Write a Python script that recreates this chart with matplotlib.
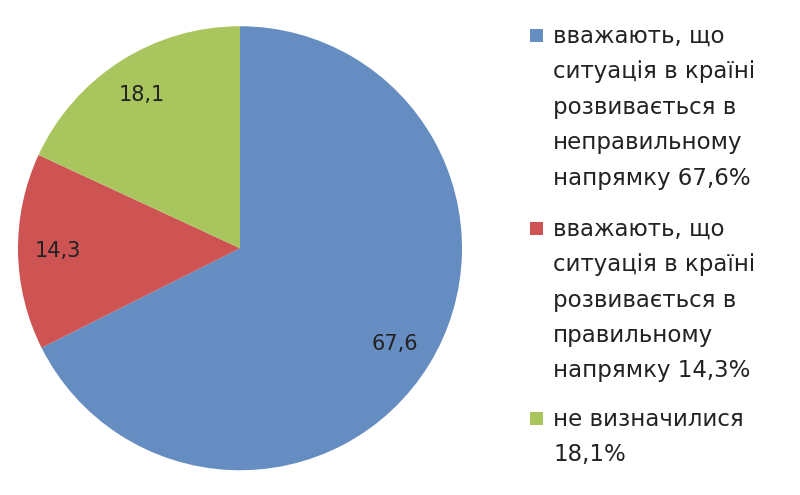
import matplotlib
matplotlib.use("Agg")
import matplotlib.pyplot as plt
from matplotlib.patches import Rectangle
import numpy as np

values = [67.6, 14.3, 18.1]
value_labels = ["67,6", "14,3", "18,1"]
legend_labels = [
    "вважають, що\nситуація в країні\nрозвивається в\nнеправильному\nнапрямку 67,6%",
    "вважають, що\nситуація в країні\nрозвивається в\nправильному\nнапрямку 14,3%",
    "не визначилися\n18,1%",
]
colors = ["#668DC2", "#CD5453", "#A9C55E"]

fig = plt.figure(figsize=(8, 4.95), dpi=100)
ax = fig.add_axes([0.0225, 0.05, 0.555, 0.897])
wedges, _ = ax.pie(values, colors=colors, startangle=90, counterclock=False,
                   wedgeprops=dict(edgecolor="none"))
ax.set_xlim(-1, 1)
ax.set_ylim(-1, 1)
ax.set_aspect("equal")
for w, lab in zip(wedges, value_labels):
    ang = np.deg2rad((w.theta1 + w.theta2) / 2)
    ax.text(0.82 * np.cos(ang), 0.82 * np.sin(ang), lab, ha="center", va="center",
            fontsize=15, color="#222222")

tops = [36, 229, 419]
for lab, col, t in zip(legend_labels, colors, tops):
    for i, line in enumerate(lab.split("\n")):
        fig.text(553 / 800, 1 - (t + 35.5 * i) / 495, line, ha="left", va="center",
                 fontsize=16.5, color="#222222")
    fig.patches.append(Rectangle((530 / 800, 1 - (t + 6) / 495), 13 / 800, 13 / 495,
                                 transform=fig.transFigure, facecolor=col,
                                 edgecolor="none"))

fig.savefig("out.png", dpi=100)
